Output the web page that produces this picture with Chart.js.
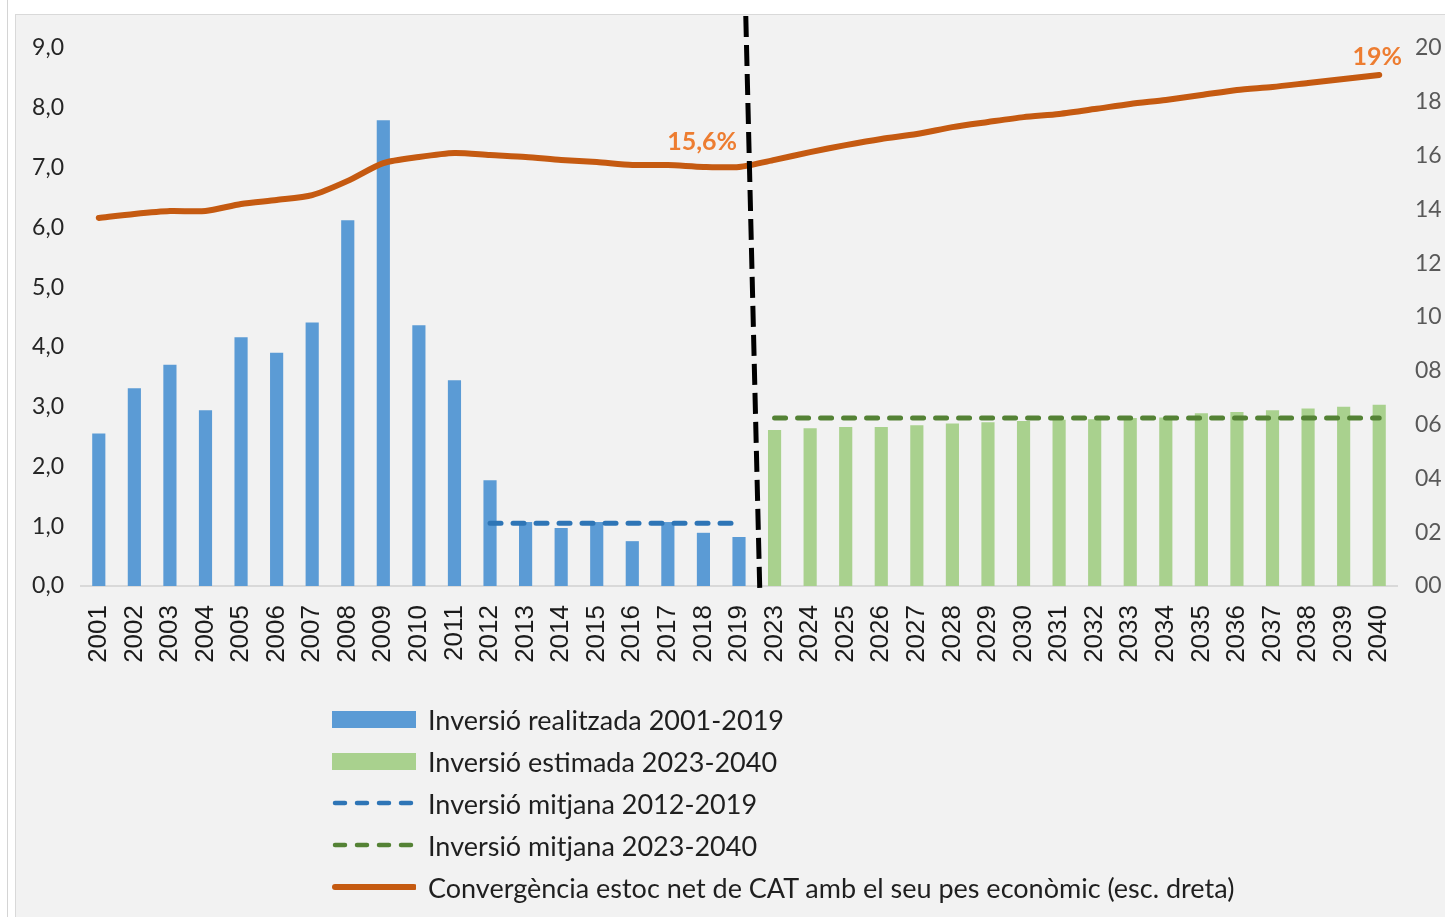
<!DOCTYPE html>
<html lang="ca">
<head>
<meta charset="UTF-8" />
<title>Inversió i convergència estoc net CAT</title>
<script src="https://cdn.jsdelivr.net/npm/chart.js@4.4.0/dist/chart.umd.min.js"></script>
<style>
  body {
    margin: 0;
    width: 1445px;
    height: 917px;
    overflow: hidden;
    position: relative;
    background: #fff;
    font-family: Lato, sans-serif;
  }
  .edge {
    position: absolute;
    left: 7px;
    top: 0;
    width: 1px;
    height: 917px;
    background: #d4d4d4;
  }
  .panel {
    position: absolute;
    left: 15px;
    top: 14px;
    right: 0;
    bottom: 0;
    background: #f2f2f2;
    border-top: 1px solid #d9d9d9;
    border-left: 1px solid #d9d9d9;
  }
  #chart {
    position: absolute;
    left: 0;
    top: 0;
  }
  #legend {
    position: absolute;
    left: 332px;
    top: 698px;
  }
  .item {
    display: flex;
    align-items: center;
    height: 42px;
  }
  .item svg {
    margin-right: 12px;
  }
  .item span {
    font-size: 27px;
    color: #1f1f1f;
  }
</style>
</head>
<body>
<div class="edge"></div>
<div class="panel"></div>
<canvas id="chart" width="1445" height="917"></canvas>
<div id="legend"></div>
<script>
  // categories: 2001-2019 then 2023-2040
  const yearsPast = ['2001','2002','2003','2004','2005','2006','2007','2008','2009','2010',
    '2011','2012','2013','2014','2015','2016','2017','2018','2019']
  const yearsFuture = ['2023','2024','2025','2026','2027','2028','2029','2030','2031',
    '2032','2033','2034','2035','2036','2037','2038','2039','2040']
  const years = yearsPast.concat(yearsFuture)

  // left axis values
  const realitzada = [2.55, 3.31, 3.70, 2.94, 4.16, 3.90, 4.41, 6.12, 7.79, 4.36,
    3.44, 1.77, 1.07, 0.97, 1.07, 0.75, 1.07, 0.89, 0.82]
  const estimada = [2.61, 2.64, 2.66, 2.66, 2.69, 2.72, 2.74, 2.76, 2.78,
    2.79, 2.81, 2.82, 2.89, 2.91, 2.94, 2.97, 3.00, 3.03]
  const mitjana2012 = [1.05, 1.05, 1.05, 1.05, 1.05, 1.05, 1.05, 1.05]
  const mitjana2023 = [2.81, 2.81, 2.81, 2.81, 2.81, 2.81, 2.81, 2.81, 2.81,
    2.81, 2.81, 2.81, 2.81, 2.81, 2.81, 2.81, 2.81, 2.81]

  // right axis (%)
  const convergencia = [13.68, 13.83, 13.94, 13.94, 14.2, 14.35, 14.53, 15.06, 15.72, 15.95,
    16.1, 16.02, 15.95, 15.84, 15.76, 15.65, 15.65, 15.58, 15.58,
    15.84, 16.13, 16.39, 16.62, 16.8, 17.06, 17.25, 17.43, 17.55,
    17.73, 17.92, 18.07, 18.25, 18.44, 18.55, 18.7, 18.85, 19.0]
  const convLabels = { 18: '15,6%', 36: '19%' }

  const nulls = (n) => new Array(n).fill(null)
  const nPast = yearsPast.length
  const nFut = yearsFuture.length

  const datasets = [
    {
      type: 'bar',
      label: 'Inversió realitzada 2001-2019',
      data: realitzada.concat(nulls(nFut)),
      backgroundColor: '#5B9BD5',
      barPercentage: 0.37,
      categoryPercentage: 1,
      grouped: false,
      yAxisID: 'y',
      order: 3,
    },
    {
      type: 'bar',
      label: 'Inversió estimada 2023-2040',
      data: nulls(nPast).concat(estimada),
      backgroundColor: '#A9D18E',
      barPercentage: 0.37,
      categoryPercentage: 1,
      grouped: false,
      yAxisID: 'y',
      order: 3,
    },
    {
      type: 'line',
      label: 'Inversió mitjana 2012-2019',
      data: nulls(11).concat(mitjana2012, nulls(nFut)),
      borderColor: '#2E75B6',
      borderWidth: 5,
      borderDash: [11, 12],
      borderCapStyle: 'round',
      pointRadius: 0,
      yAxisID: 'y',
      order: 2,
    },
    {
      type: 'line',
      label: 'Inversió mitjana 2023-2040',
      data: nulls(nPast).concat(mitjana2023),
      borderColor: '#548235',
      borderWidth: 5,
      borderDash: [11, 12],
      borderCapStyle: 'round',
      pointRadius: 0,
      yAxisID: 'y',
      order: 2,
    },
    {
      type: 'line',
      label: 'Convergència estoc net de CAT amb el seu pes econòmic (esc. dreta)',
      data: convergencia,
      borderColor: '#C55A11',
      borderWidth: 6,
      borderCapStyle: 'round',
      borderJoinStyle: 'round',
      tension: 0.25,
      pointRadius: 0,
      yAxisID: 'y1',
      order: 1,
    },
  ]

  // dashed separator between 2019 and 2023 + orange value labels
  const extras = {
    id: 'extras',
    afterDatasetsDraw(chart) {
      const { ctx, scales, chartArea } = chart
      const mid = (scales.x.getPixelForValue(nPast - 1) + scales.x.getPixelForValue(nPast)) / 2
      ctx.save()
      ctx.strokeStyle = '#000'
      ctx.lineWidth = 5
      ctx.setLineDash([21, 8])
      ctx.beginPath()
      ctx.moveTo(mid - 11, 16)
      ctx.lineTo(mid + 3, chartArea.bottom + 4)
      ctx.stroke()
      ctx.setLineDash([])

      const pts = chart.getDatasetMeta(4).data
      ctx.fillStyle = '#ED7D31'
      ctx.font = 'bold 25px Lato'
      ctx.textBaseline = 'alphabetic'
      Object.keys(convLabels).forEach((i) => {
        const p = pts[i]
        if (Number(i) === years.length - 1) {
          ctx.textAlign = 'center'
          ctx.fillText(convLabels[i], p.x - 2, p.y - 10)
        } else {
          ctx.textAlign = 'right'
          ctx.fillText(convLabels[i], p.x - 2, p.y - 17)
        }
      })
      ctx.restore()
    },
  }

  const chart = new Chart(document.getElementById('chart'), {
    data: { labels: years, datasets },
    options: {
      responsive: false,
      animation: false,
      layout: { padding: { top: 48, left: 0, right: 0, bottom: 0 } },
      plugins: {
        legend: { display: false },
        tooltip: { enabled: false },
      },
      scales: {
        x: {
          type: 'category',
          offset: true,
          grid: { display: false, drawTicks: false },
          border: { display: true, color: '#d9d9d9', width: 2 },
          ticks: {
            minRotation: 90,
            maxRotation: 90,
            autoSkip: false,
            padding: 19,
            color: '#1a1a1a',
            font: { family: 'Liberation Sans', size: 26 },
          },
          afterFit(scale) { scale.height = 917 - 586 },
        },
        y: {
          position: 'left',
          min: 0,
          max: 9,
          grid: { display: false, drawTicks: false },
          border: { display: false },
          ticks: {
            stepSize: 1,
            padding: 17,
            color: '#262626',
            font: { family: 'Lato', size: 23 },
            callback: (v) => v.toFixed(1).replace('.', ','),
          },
          afterFit(scale) { scale.width = 81 },
        },
        y1: {
          position: 'right',
          min: 0,
          max: 20,
          grid: { display: false, drawTicks: false },
          border: { display: false },
          ticks: {
            stepSize: 2,
            padding: 18,
            color: '#595959',
            font: { family: 'Lato', size: 23 },
            callback: (v) => String(v).padStart(2, '0'),
          },
          afterFit(scale) { scale.width = 1445 - 1397 },
        },
      },
    },
    plugins: [extras],
  })

  // legend: one entry per row, built from the datasets
  const legend = document.getElementById('legend')
  const legendOrder = [0, 1, 2, 3, 4]
  legendOrder.forEach((i) => {
    const ds = datasets[i]
    let sym
    if (ds.type === 'bar') {
      sym = `<svg width="84" height="20"><rect x="0" y="2" width="84" height="17" fill="${ds.backgroundColor}"/></svg>`
    } else if (ds.borderDash) {
      sym = `<svg width="84" height="20"><line x1="3" y1="10" x2="82" y2="10" stroke="${ds.borderColor}" stroke-width="4.5" stroke-linecap="round" stroke-dasharray="10 12"/></svg>`
    } else {
      sym = `<svg width="84" height="20"><line x1="3" y1="10" x2="82" y2="10" stroke="${ds.borderColor}" stroke-width="6" stroke-linecap="round"/></svg>`
    }
    const row = document.createElement('div')
    row.className = 'item'
    row.innerHTML = sym + '<span>' + ds.label + '</span>'
    legend.appendChild(row)
  })
</script>
</body>
</html>
